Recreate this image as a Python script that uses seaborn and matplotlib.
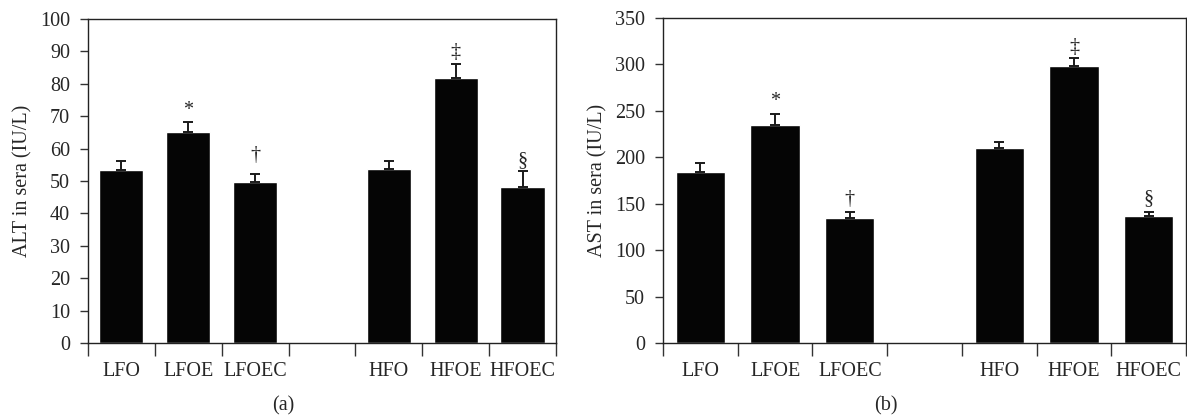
import numpy as np
import pandas as pd
import seaborn as sns
import matplotlib.pyplot as plt

groups = ["LFO", "LFOE", "LFOEC", "HFO", "HFOE", "HFOEC"]
order = ["LFO", "LFOE", "LFOEC", " ", "HFO", "HFOE", "HFOEC"]

alt_mean = [53.5, 65.2, 49.8, 53.8, 81.7, 48.0]
alt_err = [2.6, 3.0, 2.4, 2.3, 4.3, 5.2]
alt_marks = ["", "*", "\u2020", "", "\u2021", "\u00a7"]
alt_mark_y = [0, 71.8, 58.0, 0, 89.5, 56.4]

ast_mean = [184.5, 235.0, 135.0, 210.0, 297.8, 137.0]
ast_err = [9.0, 11.5, 6.0, 6.8, 8.8, 4.0]
ast_marks = ["", "*", "\u2020", "", "\u2021", "\u00a7"]
ast_mark_y = [0, 260, 154, 0, 318, 155]

FS = 14.5

sns.set_style("ticks")
plt.rcParams['font.family'] = ['Liberation Serif', 'DejaVu Serif']
plt.rcParams['font.size'] = FS

fig = plt.figure(figsize=(11.87, 4.17), dpi=100)
ax_a = fig.add_axes([0.0741, 0.1775, 0.3943, 0.7770])
ax_b = fig.add_axes([0.5586, 0.1775, 0.4406, 0.7794])


def draw_panel(ax, means, errs, marks, mark_y, ymax, ystep, ylabel):
    df = pd.DataFrame({"group": groups, "value": means})
    sns.barplot(data=df, x="group", y="value", order=order, color="#050505",
                saturation=1, width=0.66, errorbar=None, ax=ax)
    pos = [order.index(g) for g in groups]
    ax.errorbar(pos, means, yerr=[np.zeros(len(errs)), errs], fmt="none",
                ecolor="#1a1a1a", elinewidth=1.4, capsize=3.5, capthick=1.4)
    for p, m, y in zip(pos, marks, mark_y):
        if m:
            ax.text(p, y, m, ha="center", va="center", fontsize=FS)
    ax.set_xlim(-0.5, len(order) - 0.5)
    ax.set_ylim(0, ymax)
    ax.set_yticks(np.arange(0, ymax + 1, ystep))
    ax.set_xticks(np.arange(-0.5, len(order), 1.0))
    ax.set_xticklabels([])
    ax.set_xticks(range(len(order)), minor=True)
    ax.set_xticklabels(order, minor=True)
    ax.tick_params(axis="x", which="major", direction="out", length=9,
                   width=1.0, color="#333333")
    ax.tick_params(axis="x", which="minor", length=0, pad=14, labelsize=FS)
    ax.tick_params(axis="y", direction="out", length=6, width=1.0,
                   color="#333333", pad=7, labelsize=FS)
    ax.set_xlabel("")
    ax.set_ylabel(ylabel, fontsize=FS, labelpad=5)
    for s in ax.spines.values():
        s.set_visible(True)
        s.set_linewidth(1.0)
        s.set_color("#222222")


draw_panel(ax_a, alt_mean, alt_err, alt_marks, alt_mark_y, 100, 10,
           "ALT in sera (IU/L)")
draw_panel(ax_b, ast_mean, ast_err, ast_marks, ast_mark_y, 350, 50,
           "AST in sera (IU/L)")

fig.text(283 / 1187, 1 - 406 / 417, "(a)", ha="center", va="center", fontsize=FS)
fig.text(886 / 1187, 1 - 406 / 417, "(b)", ha="center", va="center", fontsize=FS)

fig.savefig("out.png", dpi=100)
